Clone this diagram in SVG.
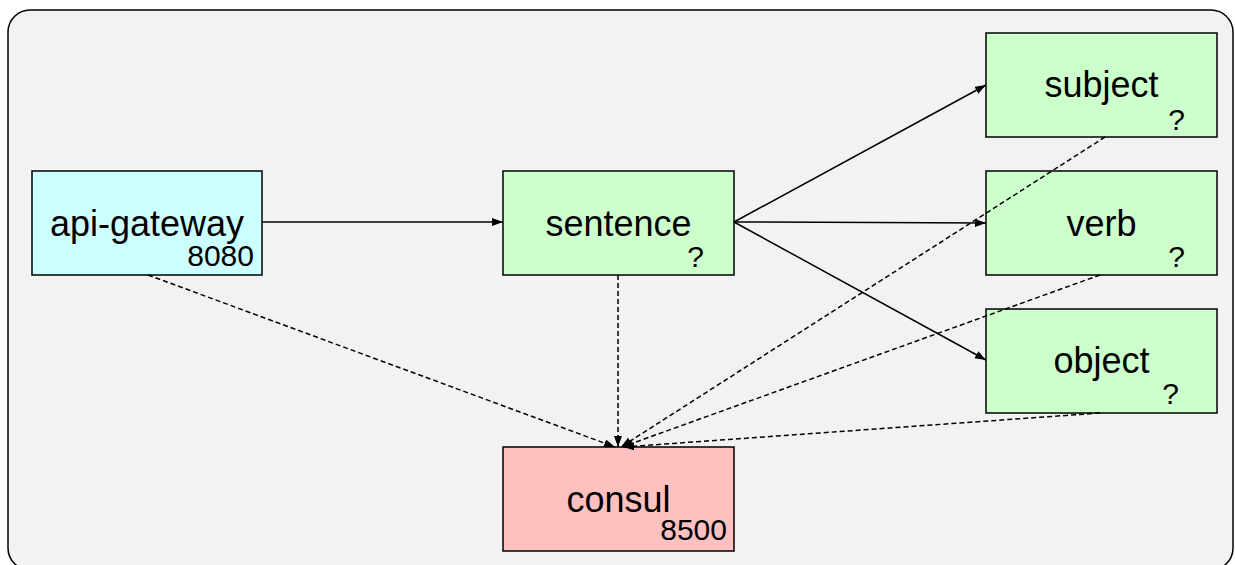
<svg xmlns="http://www.w3.org/2000/svg" width="1235" height="565" viewBox="0 0 1235 565">
  <style>
    .node { stroke: #000; stroke-width: 1.5; }
    .label { font-family: "Liberation Sans", Arial, sans-serif; font-size: 36px; fill: #000; text-anchor: middle; }
    .sub { font-family: "Liberation Sans", Arial, sans-serif; font-size: 30px; fill: #000; text-anchor: end; }
    .solid { fill: none; stroke: #000; stroke-width: 1.5; }
    .dashed { fill: none; stroke: #000; stroke-width: 1.5; stroke-dasharray: 5,3; }
  </style>
  <defs>
    <marker id="arrow" markerUnits="userSpaceOnUse" markerWidth="12" markerHeight="9" refX="11" refY="4" orient="auto">
      <path d="M0,0 L11,4 L0,8 z" fill="#000"/>
    </marker>
  </defs>
  <rect x="0" y="0" width="1235" height="565" fill="#fff"/>
  <rect id="container" x="8" y="10" width="1225" height="560" rx="22" ry="22" fill="#f2f2f2" stroke="#000" stroke-width="1.5"/>

  <g id="api-gateway">
    <rect class="node" x="32" y="171" width="230" height="104" fill="#ccffff"/>
    <text class="label" x="147" y="236">api-gateway</text>
    <text class="sub" x="254" y="266">8080</text>
  </g>
  <g id="sentence">
    <rect class="node" x="503" y="171" width="231" height="104" fill="#ccffcc"/>
    <text class="label" x="618.5" y="236">sentence</text>
    <text class="sub" x="704" y="267">?</text>
  </g>
  <g id="subject">
    <rect class="node" x="986" y="33" width="231" height="104" fill="#ccffcc"/>
    <text class="label" x="1101.5" y="97">subject</text>
    <text class="sub" x="1185" y="130">?</text>
  </g>
  <g id="verb">
    <rect class="node" x="986" y="171" width="231" height="104" fill="#ccffcc"/>
    <text class="label" x="1101.5" y="236">verb</text>
    <text class="sub" x="1185" y="267">?</text>
  </g>
  <g id="object">
    <rect class="node" x="986" y="309" width="231" height="104" fill="#ccffcc"/>
    <text class="label" x="1101.5" y="373">object</text>
    <text class="sub" x="1179" y="404">?</text>
  </g>
  <g id="consul">
    <rect class="node" x="503" y="447" width="231" height="104" fill="#ffc0c0"/>
    <text class="label" x="618.5" y="512">consul</text>
    <text class="sub" x="727" y="540">8500</text>
  </g>

  <g id="connectors">
    <line class="solid" x1="262" y1="222" x2="503" y2="222" marker-end="url(#arrow)"/>
    <line class="solid" x1="734" y1="222" x2="986" y2="85" marker-end="url(#arrow)"/>
    <line class="solid" x1="734" y1="222" x2="986" y2="223" marker-end="url(#arrow)"/>
    <line class="solid" x1="734" y1="222" x2="986" y2="360" marker-end="url(#arrow)"/>
    <line class="dashed" x1="148" y1="275" x2="615" y2="447" marker-end="url(#arrow)"/>
    <line class="dashed" x1="618" y1="275" x2="618" y2="447" marker-end="url(#arrow)"/>
    <line class="dashed" x1="1105" y1="137" x2="621" y2="447" marker-end="url(#arrow)"/>
    <line class="dashed" x1="1100" y1="275" x2="622" y2="447" marker-end="url(#arrow)"/>
    <line class="dashed" x1="1100" y1="413" x2="623" y2="447" marker-end="url(#arrow)"/>
  </g>
</svg>
